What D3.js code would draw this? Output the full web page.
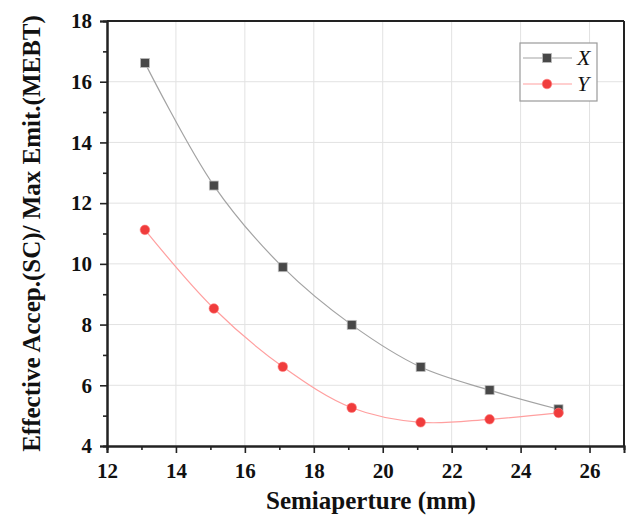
<!DOCTYPE html>
<html>
<head>
<meta charset="utf-8">
<script src="https://cdn.jsdelivr.net/npm/d3@7/dist/d3.min.js"></script>
<style>
  html, body { margin: 0; padding: 0; background: #fff; }
  svg { display: block; }
  text { font-family: "Liberation Serif", "Times New Roman", serif; }
</style>
</head>
<body>
<svg id="chart" width="635" height="523"></svg>
<script>
// Semiaperture (mm) sampled for both planes
const semiaperture = [13.1, 15.1, 17.1, 19.1, 21.1, 23.1, 25.1];
// Effective acceptance / max emittance, X plane
const ratioX = [16.62, 12.58, 9.89, 7.99, 6.60, 5.84, 5.21];
// Effective acceptance / max emittance, Y plane
const ratioY = [11.12, 8.53, 6.61, 5.26, 4.78, 4.88, 5.09];

const xTicks = [12, 14, 16, 18, 20, 22, 24, 26];
const yTicks = [4, 6, 8, 10, 12, 14, 16, 18];
const xMinor = [13, 15, 17, 19, 21, 23, 25];
const yMinor = [5, 7, 9, 11, 13, 15, 17];

const seriesNames = ["X", "Y"];

const svg = d3.select("#chart");
const plot = { left: 107, right: 624, top: 21, bottom: 446 };

const x = d3.scaleLinear().domain([12, 27]).range([plot.left, plot.right]);
const y = d3.scaleLinear().domain([4, 18]).range([plot.bottom, plot.top]);

// grid lines
const grid = svg.append("g").attr("stroke", "#e2e2e2").attr("stroke-width", 1);
grid.selectAll("line.gx").data(xTicks.filter(d => d > 12)).join("line")
  .attr("class", "gx")
  .attr("x1", d => x(d)).attr("x2", d => x(d))
  .attr("y1", plot.top).attr("y2", plot.bottom);
grid.selectAll("line.gy").data(yTicks.filter(d => d > 4 && d < 18)).join("line")
  .attr("class", "gy")
  .attr("y1", d => y(d)).attr("y2", d => y(d))
  .attr("x1", plot.left).attr("x2", plot.right);

// series
const series = [
  { name: seriesNames[0], values: ratioX, line: "#a3a3a3", width: 1.2, fill: "#484848", stroke: "#bdbdbd", shape: "square" },
  { name: seriesNames[1], values: ratioY, line: "#ff9f9f", width: 1.2, fill: "#f03c3c", stroke: "#ff8080", shape: "circle" }
];

const lineGen = d3.line()
  .x(d => x(d[0])).y(d => y(d[1]))
  .curve(d3.curveCatmullRom.alpha(0.5));

function drawMarker(g, shape, cx, cy, s) {
  if (shape === "square") {
    g.append("rect")
      .attr("x", cx - 4.5).attr("y", cy - 4.5)
      .attr("width", 9).attr("height", 9)
      .attr("fill", s.fill).attr("stroke", s.stroke).attr("stroke-width", 0.8);
  } else {
    g.append("circle")
      .attr("cx", cx).attr("cy", cy).attr("r", 4.8)
      .attr("fill", s.fill).attr("stroke", s.stroke).attr("stroke-width", 0.6);
  }
}

series.forEach(s => {
  const pts = semiaperture.map((v, i) => [v, s.values[i]]);
  svg.append("path").datum(pts)
    .attr("d", lineGen)
    .attr("fill", "none")
    .attr("stroke", s.line)
    .attr("stroke-width", s.width);
});
series.forEach(s => {
  const g = svg.append("g");
  semiaperture.forEach((v, i) => drawMarker(g, s.shape, x(v), y(s.values[i]), s));
});

// frame (top and right)
svg.append("line").attr("x1", plot.left).attr("x2", plot.right).attr("y1", plot.top).attr("y2", plot.top)
  .attr("stroke", "#222").attr("stroke-width", 2);
svg.append("line").attr("x1", plot.right).attr("x2", plot.right).attr("y1", plot.top).attr("y2", plot.bottom)
  .attr("stroke", "#222").attr("stroke-width", 2);

// axes
const xAxis = svg.append("g").attr("transform", `translate(0,${plot.bottom})`)
  .call(d3.axisBottom(x).tickValues(xTicks).tickSize(7).tickPadding(10).tickFormat(d3.format("d")));
const xAxisMinor = svg.append("g").attr("transform", `translate(0,${plot.bottom})`)
  .call(d3.axisBottom(x).tickValues(xMinor).tickSize(4).tickFormat(""));
const yAxis = svg.append("g").attr("transform", `translate(${plot.left},0)`)
  .call(d3.axisLeft(y).tickValues(yTicks).tickSize(7).tickPadding(8).tickFormat(d3.format("d")));
const yAxisMinor = svg.append("g").attr("transform", `translate(${plot.left},0)`)
  .call(d3.axisLeft(y).tickValues(yMinor).tickSize(4).tickFormat(""));

[xAxis, xAxisMinor, yAxis, yAxisMinor].forEach(a => {
  a.select(".domain").attr("stroke", "#222").attr("stroke-width", 2);
  a.selectAll(".tick line").attr("stroke", "#222").attr("stroke-width", 1.6);
  a.selectAll(".tick text")
    .attr("fill", "#111")
    .style("font-family", "'Liberation Serif', serif")
    .style("font-weight", "bold")
    .style("font-size", "21px");
});

// axis titles
svg.append("text")
  .attr("x", 371)
  .attr("y", 509)
  .attr("text-anchor", "middle")
  .attr("fill", "#111")
  .style("font-weight", "bold")
  .style("font-size", "25px")
  .text("Semiaperture (mm)");

svg.append("text")
  .attr("transform", `translate(40,${(plot.top + plot.bottom) / 2}) rotate(-90)`)
  .attr("text-anchor", "middle")
  .attr("fill", "#111")
  .style("font-weight", "bold")
  .style("font-size", "25px")
  .text("Effective Accep.(SC)/ Max Emit.(MEBT)");

// legend
const legend = svg.append("g");
legend.append("rect")
  .attr("x", 520).attr("y", 43).attr("width", 77).attr("height", 58)
  .attr("fill", "#fff").attr("stroke", "#9a9a9a").attr("stroke-width", 1.2);
series.forEach((s, i) => {
  const ly = 58 + i * 26;
  legend.append("line")
    .attr("x1", 523).attr("x2", 572).attr("y1", ly).attr("y2", ly)
    .attr("stroke", s.line).attr("stroke-width", s.width);
  drawMarker(legend, s.shape, 547, ly, s);
  legend.append("text")
    .attr("x", 577).attr("y", ly + 7)
    .attr("fill", "#111")
    .style("font-style", "italic")
    .style("font-size", "22px")
    .text(s.name);
});
</script>
</body>
</html>
